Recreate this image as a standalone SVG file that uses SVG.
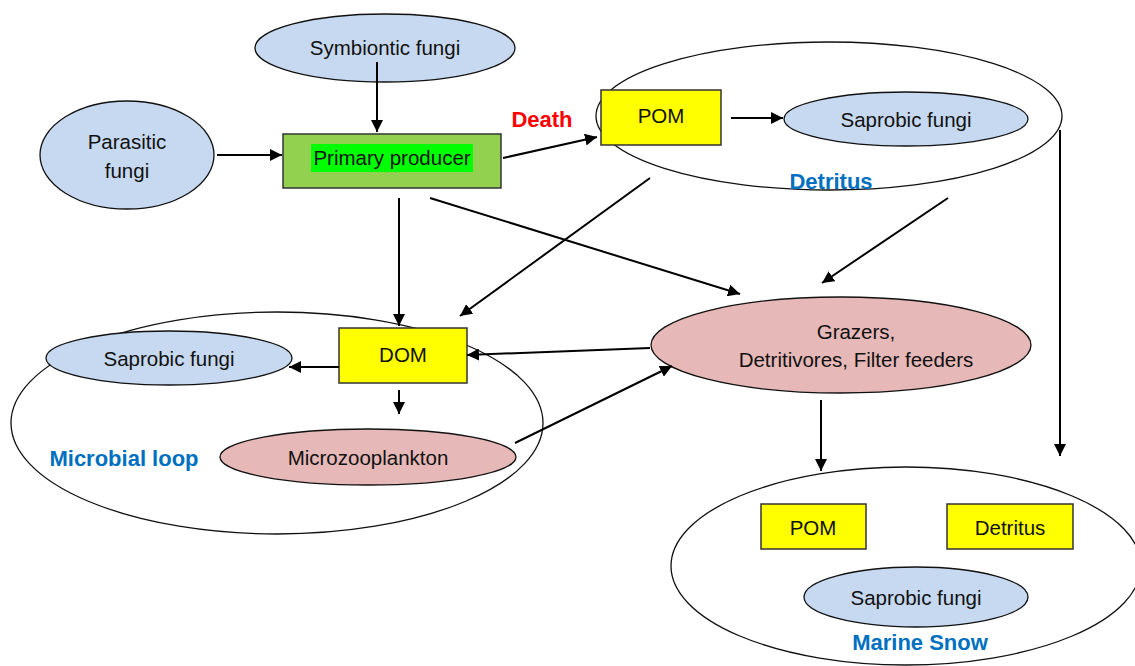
<svg xmlns="http://www.w3.org/2000/svg" width="1135" height="666" viewBox="0 0 1135 666">
<style>
.t{font-family:"Liberation Sans","Open Sans",sans-serif;font-size:20.5px;fill:#111;text-anchor:middle}
.lb{font-family:"Liberation Sans","Open Sans",sans-serif;font-size:22px;font-weight:bold;text-anchor:middle}
.blue{fill:#0070C0}
.red{fill:#FF0000}
.grp{fill:none;stroke:#111;stroke-width:1.3}
.fun{fill:#C6D9F0;stroke:#111;stroke-width:1.3}
.pink{fill:#E6B8B7;stroke:#111;stroke-width:1.3}
.yel{fill:#FFFF00;stroke:#333;stroke-width:1.5}
.c{stroke:#000;stroke-width:2;fill:none;marker-end:url(#ah)}
</style>
<defs>
<marker id="ah" viewBox="0 0 10 10" refX="10" refY="5" markerWidth="6" markerHeight="6" markerUnits="strokeWidth" orient="auto">
<path d="M0,0 L10,5 L0,10 z" fill="#000"/>
</marker>
</defs>
<rect width="1135" height="666" fill="#fff"/>

<g id="detritus-group">
<ellipse class="grp" cx="829" cy="116" rx="233" ry="74"/>
<text class="lb blue" x="831" y="189">Detritus</text>
</g>
<g id="microbial-loop-group">
<ellipse class="grp" cx="277" cy="423" rx="266" ry="111"/>
<text class="lb blue" x="124" y="466">Microbial loop</text>
</g>
<g id="marine-snow-group">
<ellipse class="grp" cx="906" cy="566" rx="235" ry="99"/>
<text class="lb blue" x="920" y="650">Marine Snow</text>
</g>

<g id="symbiontic-fungi">
<ellipse class="fun" cx="385" cy="48" rx="130" ry="34"/>
<text class="t" x="385" y="55">Symbiontic fungi</text>
</g>
<g id="parasitic-fungi">
<ellipse class="fun" cx="127" cy="155" rx="87" ry="54"/>
<text class="t" x="127" y="149">Parasitic</text>
<text class="t" x="127" y="178">fungi</text>
</g>
<g id="primary-producer">
<rect x="283" y="134" width="218" height="54" fill="#92D050" stroke="#333" stroke-width="1.5"/>
<rect x="311" y="144" width="162" height="28" fill="#00FF00"/>
<text class="t" x="392" y="165">Primary producer</text>
</g>
<g id="death-label">
<text class="lb red" x="542" y="127">Death</text>
</g>
<g id="pom-detritus">
<rect class="yel" x="601" y="90" width="120" height="55"/>
<text class="t" x="661" y="123">POM</text>
</g>
<g id="saprobic-fungi-detritus">
<ellipse class="fun" cx="906" cy="119" rx="122" ry="27"/>
<text class="t" x="906" y="127">Saprobic fungi</text>
</g>
<g id="grazers">
<ellipse class="pink" cx="841" cy="345" rx="190" ry="48"/>
<text class="t" x="856" y="339">Grazers,</text>
<text class="t" x="856" y="367">Detritivores, Filter feeders</text>
</g>
<g id="dom">
<rect class="yel" x="339" y="328" width="128" height="55"/>
<text class="t" x="403" y="362">DOM</text>
</g>
<g id="saprobic-fungi-microbial">
<ellipse class="fun" cx="169" cy="358" rx="123" ry="27"/>
<text class="t" x="169" y="366">Saprobic fungi</text>
</g>
<g id="microzooplankton">
<ellipse class="pink" cx="368" cy="457" rx="148" ry="28"/>
<text class="t" x="368" y="465">Microzooplankton</text>
</g>
<g id="pom-snow">
<rect class="yel" x="761" y="504" width="105" height="45"/>
<text class="t" x="813" y="535">POM</text>
</g>
<g id="detritus-snow">
<rect class="yel" x="947" y="504" width="126" height="45"/>
<text class="t" x="1010" y="535">Detritus</text>
</g>
<g id="saprobic-fungi-snow">
<ellipse class="fun" cx="916" cy="597" rx="112" ry="30"/>
<text class="t" x="916" y="605">Saprobic fungi</text>
</g>

<g id="connectors">
<line class="c" x1="377" y1="62" x2="377" y2="132"/>
<line class="c" x1="217" y1="155" x2="282" y2="155"/>
<line class="c" x1="503" y1="158" x2="597" y2="137"/>
<line class="c" x1="731" y1="118" x2="783" y2="118"/>
<line class="c" x1="399" y1="198" x2="399" y2="326"/>
<line class="c" x1="430" y1="198" x2="740" y2="294"/>
<line class="c" x1="650" y1="178" x2="460" y2="316"/>
<line class="c" x1="948" y1="198" x2="822" y2="283"/>
<line class="c" x1="1060" y1="130" x2="1060" y2="456"/>
<line class="c" x1="650" y1="348" x2="467" y2="355"/>
<line class="c" x1="515" y1="443" x2="672" y2="366"/>
<line class="c" x1="821" y1="400" x2="821" y2="471"/>
<line class="c" x1="339" y1="367" x2="289" y2="367"/>
<line class="c" x1="399" y1="390" x2="399" y2="414"/>
</g>
</svg>
